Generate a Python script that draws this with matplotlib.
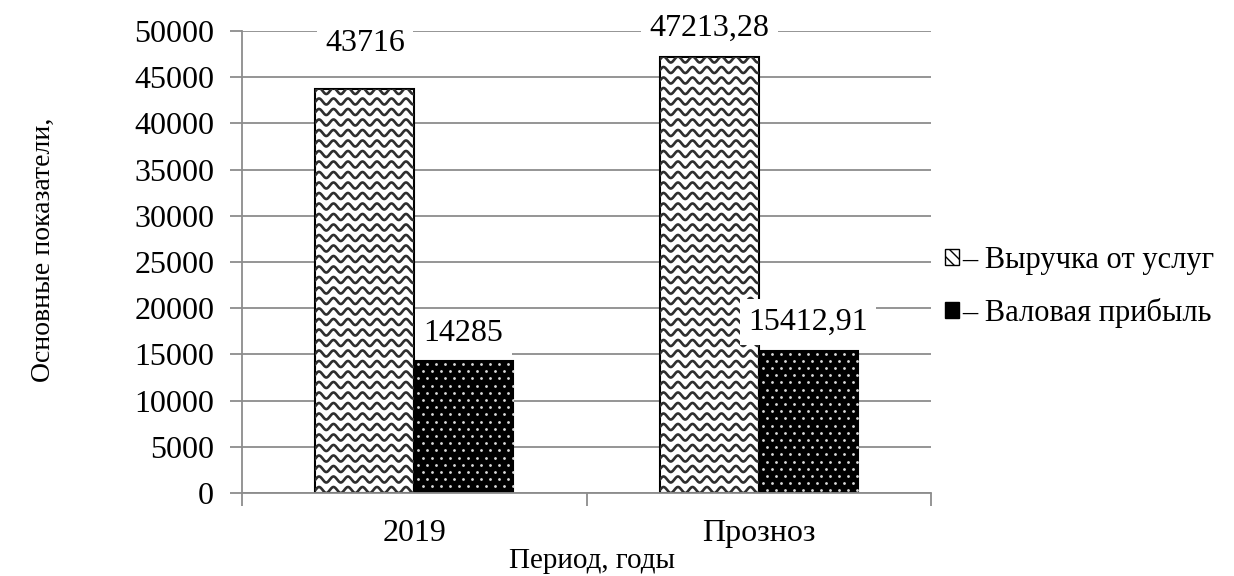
import numpy as np
import matplotlib
matplotlib.use("Agg")
import matplotlib.pyplot as plt
from matplotlib.patches import Patch
from matplotlib.transforms import IdentityTransform

categories = ["2019", "Прозноз"]
revenue = [43716, 47213.28]
gross_profit = [14285, 15412.91]
revenue_labels = ["43716", "47213,28"]
profit_labels = ["14285", "15412,91"]
series_names = ["– Выручка от услуг", "– Валовая прибыль"]
y_ticks = list(range(0, 50001, 5000))

plt.rcParams["font.family"] = ["Liberation Serif", "DejaVu Serif"]
plt.rcParams["font.size"] = 23

W, H, DPI = 12.34, 5.76, 100
fig = plt.figure(figsize=(W, H), dpi=DPI)
ax = fig.add_axes([242 / 1234, 1 - 493 / 576, (931 - 242) / 1234, (493 - 31) / 576])

grid_c = "#8c8c8c"
x = np.arange(len(categories))
bw = 0.287

ax.set_xlim(-0.5, len(categories) - 0.5)
ax.set_ylim(0, 50000)
ax.set_yticks(y_ticks)
ax.yaxis.grid(True, color=grid_c, linewidth=1.3)
ax.set_axisbelow(True)
for s in ["top", "right"]:
    ax.spines[s].set_visible(False)
for s in ["left", "bottom"]:
    ax.spines[s].set_color(grid_c)
    ax.spines[s].set_linewidth(1.3)
ax.tick_params(axis="y", length=9, color=grid_c, width=1.3, pad=11)
ax.set_xticks(x)
ax.set_xticklabels(categories)
ax.tick_params(axis="x", which="major", length=0, pad=19)
ax.set_xticks(np.arange(-0.5, len(categories), 1.0), minor=True)
ax.tick_params(axis="x", which="minor", length=9, color=grid_c, width=1.3)

rev_bars = ax.bar(x - bw / 2, revenue, bw, facecolor="white",
                  edgecolor="black", linewidth=1.5, zorder=2)
prof_bars = ax.bar(x + bw / 2, gross_profit, bw, facecolor="black",
                   edgecolor="black", linewidth=1.5, zorder=2)

fig.canvas.draw()
ident = IdentityTransform()

# wavy texture on the revenue bars
for bar in rev_bars:
    (x0, y0), (x1, y1) = ax.transData.transform(
        [(bar.get_x(), 0), (bar.get_x() + bar.get_width(), bar.get_height())])
    xs = np.arange(x0 - 2, x1 + 2, 0.5)
    period, amp, step = 14.5, 3.0, 10.5
    yy = y0 + 3
    while yy < y1 + 6:
        ys = yy + amp * np.sin(2 * np.pi * (xs - x0) / period)
        ln, = ax.plot(xs, ys, transform=ident, color="#2e2e2e",
                      linewidth=1.9, zorder=2.5)
        ln.set_clip_path(bar)
        yy += step

# dotted texture on the profit bars
for bar in prof_bars:
    (x0, y0), (x1, y1) = ax.transData.transform(
        [(bar.get_x(), 0), (bar.get_x() + bar.get_width(), bar.get_height())])
    dx, dy = 9.0, 7.2
    px, py = [], []
    row = 0
    yy = y1 - 3
    while yy > y0:
        off = (dx / 2) * (row % 2)
        xx = x0 + 4 + off
        while xx < x1:
            px.append(xx)
            py.append(yy)
            xx += dx
        yy -= dy
        row += 1
    dots, = ax.plot(px, py, transform=ident, linestyle="none", marker="o",
                    markersize=2.0, markerfacecolor="#dcdcdc",
                    markeredgewidth=0, zorder=2.5)
    dots.set_clip_path(bar)

box = dict(facecolor="white", edgecolor="none", pad=6)
rev_offsets = [(0, 46), (0, 28)]
prof_offsets = [(0, 28), (0, 28.5)]
for i in range(len(categories)):
    ax.annotate(revenue_labels[i], (x[i] - bw / 2, revenue[i]),
                xytext=rev_offsets[i], textcoords="offset pixels",
                ha="center", va="center", bbox=box, zorder=4)
    ax.annotate(profit_labels[i], (x[i] + bw / 2, gross_profit[i]),
                xytext=prof_offsets[i], textcoords="offset pixels",
                ha="center", va="center", bbox=box, zorder=4)

fig.text(43 / 1234, 1 - 250 / 576, "Основные показатели,", rotation=90,
         ha="center", va="center", fontsize=20)
fig.text(592 / 1234, 1 - 561 / 576, "Период, годы", ha="center",
         va="center", fontsize=21)

handles = [
    Patch(facecolor="white", edgecolor="black", hatch="\\\\\\", linewidth=1.0),
    Patch(facecolor="black", edgecolor="black", linewidth=1.0),
]
fig.legend(handles, series_names, loc="center left",
           bbox_to_anchor=(930 / 1234, 1 - 287 / 576), frameon=False,
           fontsize=22, handlelength=0.45, handleheight=0.45,
           handletextpad=0.1, labelspacing=0.75, borderpad=0)

fig.savefig("out.png", dpi=DPI)
